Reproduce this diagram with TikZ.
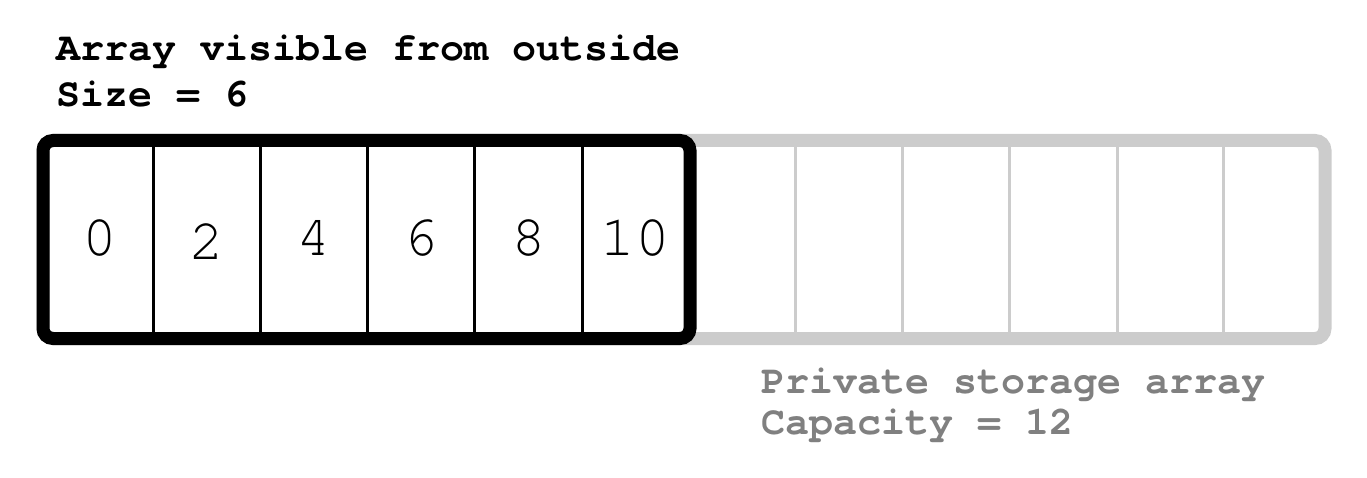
\documentclass[tikz,border=0pt]{standalone}
\usepackage{fontspec}
\setmonofont{TeX Gyre Cursor}
\definecolor{boxgray}{HTML}{CCCCCC}
\definecolor{textgray}{HTML}{808080}
\tikzset{
  digit/.style={inner sep=0pt, anchor=base, font=\ttfamily\fontsize{58}{58}\selectfont},
  heading/.style={inner sep=0pt, anchor=base west, font=\ttfamily\bfseries\fontsize{40}{40}\selectfont},
  thinsep/.style={line width=3pt},
  thickframe/.style={line width=13pt, rounded corners=10pt},
}
\begin{document}
\begin{tikzpicture}[x=1pt,y=-1pt]
\useasboundingbox (0,0) rectangle (1367,478);
% gray storage array
\draw[thickframe, boxgray] (43,140.5) rectangle (1325,338.5);
\foreach \x in {795.5,902.7,1009.9,1117.1,1223} {
  \draw[thinsep, boxgray] (\x,140.5) -- (\x,338.5);
}
% visible part
\foreach \x in {153.2,260.4,367.6,474.8,582} {
  \draw[thinsep, black] (\x,140.5) -- (\x,338.5);
}
\draw[thickframe, black] (43,140.5) rectangle (690,338.5);
% digits
\node[digit] (d0) at (99.6,256) {0};
\node[digit] (d2) at (206.8,259.5) {2};
\node[digit] (d4) at (314,256) {4};
\node[digit] (d6) at (421.2,256) {6};
\node[digit] (d8) at (528.4,256) {8};
\node[digit] (d10) at (635.6,256) {10};
% headings
\node[heading] (t1) at (56,61) {Array visible from outside};
\node[heading] (t2) at (56,107) {Size = 6};
\node[heading, text=textgray] (p1) at (761,393) {Private storage array};
\node[heading, text=textgray] (p2) at (761,434) {Capacity = 12};
\end{tikzpicture}
\end{document}
